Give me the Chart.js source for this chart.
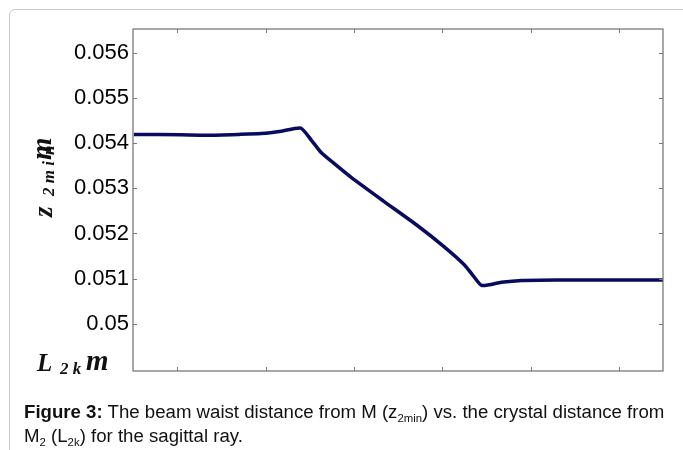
<!DOCTYPE html>
<html>
<head>
<meta charset="utf-8">
<script src="https://cdn.jsdelivr.net/npm/chart.js@4/dist/chart.umd.min.js"></script>
<style>
  html, body { margin:0; padding:0; background:#fff; }
  body { width:683px; height:450px; position:relative; overflow:hidden; }
  #panel { position:absolute; left:9px; top:9px; width:720px; height:480px; border:1px solid #c9c9c9; border-radius:6px; box-sizing:border-box; }
  #wrap { position:absolute; left:0; top:0; width:683px; height:450px; }
  #caption { position:absolute; left:24px; top:400px; width:760px; font-family:"Liberation Sans", Arial, sans-serif; font-size:18px; line-height:24px; color:#111; transform:scaleX(1.035); transform-origin:left top; white-space:nowrap; }
  #caption sub { font-size:11px; vertical-align:-4px; line-height:0; }
</style>
</head>
<body>
<div id="panel"></div>
<div id="wrap"><canvas id="c" width="683" height="450"></canvas></div>
<div id="caption"><b>Figure 3:</b> The beam waist distance from M (z<sub>2min</sub>) vs. the crystal distance from<br>M<sub>2</sub> (L<sub>2k</sub>) for the sagittal ray.</div>
<script>
// Data
const xValues = [0.51, 1.04, 1.35, 1.7, 1.95, 2.18, 2.40, 2.52, 2.63, 2.80, 2.97, 3.34, 3.73, 4.02, 4.25, 4.35, 4.45, 4.67, 4.90, 5.3, 5.8, 6.5];
const zValues = [0.05419, 0.05418, 0.05417, 0.05419, 0.05421, 0.05426, 0.05433, 0.05406, 0.05379, 0.05351, 0.05324, 0.05271, 0.05216, 0.05171, 0.05131, 0.05107, 0.05085, 0.05092, 0.05096, 0.05097, 0.05097, 0.05097];
const yTicks = [0.05, 0.051, 0.052, 0.053, 0.054, 0.055, 0.056];
const xTicks = [1, 2, 3, 4, 5, 6];
const yTitle = ["z", "2 m i", "n", "m"];
const xTitle = ["L", "2 k", "m"];

const points = xValues.map((x, i) => ({x: x, y: zValues[i]}));

const framePlugin = {
  id: 'frame',
  afterDraw(chart) {
    const ctx = chart.ctx;
    const a = chart.chartArea;
    const xs = chart.scales.x, ys = chart.scales.y;
    ctx.save();
    ctx.strokeStyle = '#6e6e6e';
    ctx.lineWidth = 1.2;
    ctx.strokeRect(a.left, a.top, a.right - a.left, a.bottom - a.top);
    ctx.strokeStyle = '#777';
    ctx.lineWidth = 1;
    const L = 4;
    ys.ticks.forEach(t => {
      const y = Math.round(ys.getPixelForValue(t.value)) + 0.5;
      ctx.beginPath(); ctx.moveTo(a.left, y); ctx.lineTo(a.left + L, y); ctx.stroke();
      ctx.beginPath(); ctx.moveTo(a.right, y); ctx.lineTo(a.right - L, y); ctx.stroke();
    });
    xs.ticks.forEach(t => {
      const x = Math.round(xs.getPixelForValue(t.value)) + 0.5;
      ctx.beginPath(); ctx.moveTo(x, a.top); ctx.lineTo(x, a.top + L); ctx.stroke();
      ctx.beginPath(); ctx.moveTo(x, a.bottom); ctx.lineTo(x, a.bottom - L); ctx.stroke();
    });
    // y axis title (rotated)
    ctx.fillStyle = '#111';
    ctx.translate(52, 217);
    ctx.rotate(-Math.PI / 2);
    ctx.textBaseline = 'alphabetic';
    ctx.textAlign = 'left';
    ctx.font = 'italic bold 27px "Liberation Serif", serif';
    ctx.fillText(yTitle[0], 0, 0);
    ctx.font = 'italic bold 17px "Liberation Serif", serif';
    ctx.fillText(yTitle[1], 21, 2);
    ctx.fillText(yTitle[2], 62, 2);
    ctx.font = 'italic bold 29px "Liberation Serif", serif';
    ctx.fillText(yTitle[3], 57, -1);
    ctx.setTransform(1, 0, 0, 1, 0, 0);
    // x axis title
    ctx.font = 'italic bold 25px "Liberation Serif", serif';
    ctx.fillText(xTitle[0], 37, 371);
    ctx.font = 'italic bold 17px "Liberation Serif", serif';
    ctx.fillText(xTitle[1], 60, 374);
    ctx.font = 'italic bold 29px "Liberation Serif", serif';
    ctx.fillText(xTitle[2], 86, 370);
    ctx.restore();
  }
};

new Chart(document.getElementById('c'), {
  type: 'line',
  data: {
    datasets: [{
      data: points,
      borderColor: '#0a0a60',
      borderWidth: 3.5,
      pointRadius: 0,
      tension: 0.2,
      fill: false
    }]
  },
  options: {
    responsive: false,
    animation: false,
    events: [],
    layout: { padding: { left: 0, top: 29, right: 20, bottom: 79 } },
    plugins: { legend: { display: false }, tooltip: { enabled: false } },
    scales: {
      x: {
        type: 'linear', min: 0.5, max: 6.5,
        afterBuildTicks(s) { s.ticks = xTicks.map(v => ({value: v})); },
        afterFit(s) { s.height = 0; },
        ticks: { display: false },
        grid: { display: false },
        border: { display: false }
      },
      y: {
        type: 'linear', min: 0.04896, max: 0.05652,
        afterBuildTicks(s) { s.ticks = yTicks.map(v => ({value: v})); },
        afterFit(s) { s.width = 133; },
        ticks: {
          padding: 4,
          color: '#000',
          font: { family: '"Liberation Sans", Arial, sans-serif', size: 22 },
          callback: v => String(parseFloat(v.toFixed(4)))
        },
        grid: { display: false, drawTicks: false },
        border: { display: false }
      }
    }
  },
  plugins: [framePlugin]
});
</script>
</body>
</html>
